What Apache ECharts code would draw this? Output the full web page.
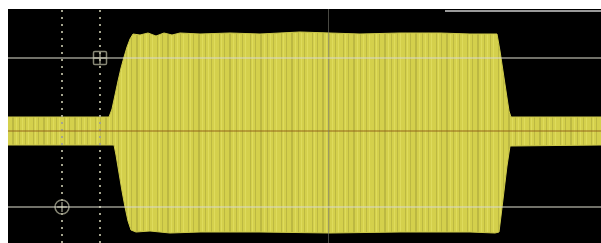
<!DOCTYPE html>
<html>
<head>
<meta charset="utf-8">
<script src="https://cdn.jsdelivr.net/npm/echarts@6/dist/echarts.min.js"></script>
<style>
  html, body { margin: 0; padding: 0; background: #fff; }
  #main { width: 601px; height: 243px; }
</style>
</head>
<body>
<div id="main"></div>
<script>
// envelope of the burst (x = sample position, y = offset from centre)
var upperX = [0, 52, 101, 104, 107, 110, 113, 116, 119, 122, 125, 132, 140, 148, 156, 164, 172, 192, 222, 252, 292, 322, 352, 392, 432, 462, 482, 489, 492, 495, 498, 501, 503, 512, 593];
var upperY = [14, 14, 14, 22, 36, 50, 63, 74, 84, 92, 97, 96, 98, 95, 98, 96, 98, 97, 98, 97, 99, 98, 97, 98, 98, 97, 97, 97, 80, 60, 40, 20, 14, 14, 14];
var lowerX = [0, 106, 108, 111, 114, 117, 120, 123, 128, 142, 162, 192, 252, 322, 392, 462, 487, 491, 493, 496, 499, 502, 504, 593];
var lowerY = [-14, -14, -24, -42, -60, -76, -90, -99, -101, -100, -102, -101, -101, -102, -101, -101, -102, -101, -85, -60, -35, -15, -14, -14];

// cursors and graticule centre
var cursorX = [54, 92];
var cursorY = [73, -76];
var centreX = 320;

function pairs(xs, ys) {
  var out = [];
  for (var i = 0; i < xs.length; i++) out.push([xs[i], ys[i]]);
  return out;
}

// striped yellow fill like the persistence trace
var pat = document.createElement('canvas');
pat.width = 31; pat.height = 4;
var g = pat.getContext('2d');
g.fillStyle = '#d4d04c'; g.fillRect(0, 0, 31, 4);
g.fillStyle = '#bcb842';
[2, 7, 12, 13, 19, 25].forEach(function (c) { g.fillRect(c, 0, 1, 4); });
g.fillStyle = '#dedb5c';
[4, 16, 22, 28].forEach(function (c) { g.fillRect(c, 0, 1, 4); });

var fill = { image: pat, repeat: 'repeat' };

var myChart = echarts.init(document.getElementById('main'));
var option = {
  animation: false,
  grid: {
    left: 8, right: 0, top: 9, bottom: 0,
    show: true, backgroundColor: '#000', borderWidth: 0
  },
  xAxis: { type: 'value', min: 0, max: 593, show: false },
  yAxis: { type: 'value', min: -112, max: 122, show: false },
  graphic: [{
    type: 'line', shape: { x1: 445, y1: 11, x2: 601, y2: 11 },
    style: { stroke: '#9a9a9a', lineWidth: 2 }
  }],
  series: [
    {
      name: 'cursors', type: 'line', data: [], z: 1,
      markLine: {
        silent: true, symbol: 'none', label: { show: false },
        lineStyle: { color: '#a4a48e', width: 2, type: [2, 5] },
        data: cursorX.map(function (v) { return { xAxis: v }; })
      }
    },
    {
      name: 'upper', type: 'line', data: pairs(upperX, upperY), z: 2,
      showSymbol: false, smooth: false,
      lineStyle: { width: 1, color: '#cdc94a' },
      areaStyle: { color: fill, opacity: 1 }
    },
    {
      name: 'lower', type: 'line', data: pairs(lowerX, lowerY), z: 2,
      showSymbol: false, smooth: false,
      lineStyle: { width: 1, color: '#cdc94a' },
      areaStyle: { color: fill, opacity: 1 }
    },
    {
      name: 'graticule', type: 'line', data: [], z: 3,
      markLine: {
        silent: true, symbol: 'none', label: { show: false },
        data: [
          { yAxis: 0, lineStyle: { color: 'rgba(140,90,20,0.6)', width: 1.5, type: 'solid' } },
          { xAxis: centreX, lineStyle: { color: 'rgba(120,120,110,0.6)', width: 1, type: 'solid' } },
          { yAxis: cursorY[0], lineStyle: { color: 'rgba(215,215,200,0.7)', width: 1.5, type: 'solid' } },
          { yAxis: cursorY[1], lineStyle: { color: 'rgba(215,215,200,0.7)', width: 1.5, type: 'solid' } }
        ]
      }
    },
    {
      name: 'markers', type: 'scatter', z: 4, silent: true,
      data: [
        { value: [cursorX[1], cursorY[0]], symbol: 'path://M1,0H9Q10,0 10,1V9Q10,10 9,10H1Q0,10 0,9V1Q0,0 1,0Z M5,0V10 M0,5H10', symbolSize: [13, 13] },
        { value: [cursorX[0], cursorY[1]], symbol: 'path://M5,0A5,5 0 1,1 4.99,0Z M5,1.5V8.5 M1.5,5H8.5', symbolSize: [14, 14] }
      ],
      itemStyle: { color: 'rgba(0,0,0,0)', borderColor: '#a8a892', borderWidth: 1.5 }
    }
  ]
};
myChart.setOption(option);
window.addEventListener('resize', function () { myChart.resize(); });
</script>
</body>
</html>
